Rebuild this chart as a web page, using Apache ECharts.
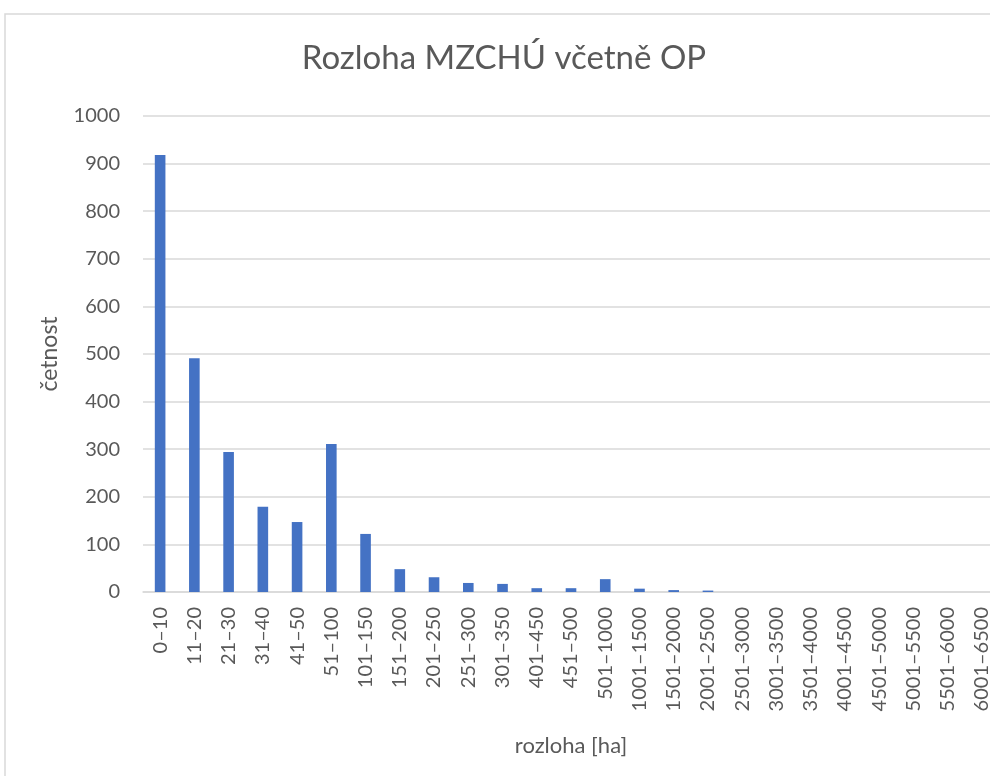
<!DOCTYPE html>
<html><head><meta charset="utf-8">
<script src="https://cdn.jsdelivr.net/npm/echarts@6/dist/echarts.min.js"></script>
<style>html,body{margin:0;padding:0;background:#fff}#c{width:990px;height:776px}</style>
</head><body><div id="c"></div>
<script>
const categories = ['0–10','11–20','21–30','31–40','41–50','51–100','101–150','151–200','201–250','251–300','301–350','401–450','451–500','501–1000','1001–1500','1501–2000','2001–2500','2501–3000','3001–3500','3501–4000','4001–4500','4501–5000','5001–5500','5501–6000','6001–6500'];
const values = [918,491,294,179,147,311,122,48,31,19,17,8,8,27,7,4,3,0,0,0,0,0,0,0,0];
const yTicks = [0,100,200,300,400,500,600,700,800,900,1000];
const chart = echarts.init(document.getElementById('c'), null, {renderer:'canvas'});
const font = 'Lato, "Open Sans", sans-serif';
chart.setOption({
  animation:false,
  backgroundColor:'#fff',
  title:{text:'Rozloha MZCHÚ včetně OP', left:499, textAlign:'center', top:37,
    textStyle:{fontFamily:font, fontSize:33, fontWeight:'normal', color:'#595959'}},
  graphic:[{type:'rect', shape:{x:5,y:14,width:1000,height:800}, style:{fill:'none', stroke:'#d9d9d9', lineWidth:1.5}, silent:true}],
  grid:{left:143, top:116, width:856, bottom:184, containLabel:false, outerBoundsMode:'none'},
  xAxis:{type:'category', data:categories,
    name:'rozloha [ha]', nameLocation:'middle', nameGap:143,
    nameTextStyle:{fontFamily:font, fontSize:22, color:'#595959'},
    axisLine:{lineStyle:{color:'#d9d9d9', width:1.5}}, axisTick:{show:false},
    axisLabel:{rotate:90, interval:0, margin:15, fontFamily:font, fontSize:20, color:'#595959'}},
  yAxis:{type:'value', min:0, max:1000, interval:100,
    name:'četnost', nameLocation:'middle', nameGap:82,
    nameTextStyle:{fontFamily:font, fontSize:23, color:'#595959'},
    axisLine:{show:false}, axisTick:{show:false},
    splitLine:{lineStyle:{color:'#d9d9d9', width:1.5}},
    axisLabel:{margin:23, fontFamily:font, fontSize:20, color:'#595959',
      formatter:v=> yTicks.includes(v)? String(v):''}},
  series:[{type:'bar', data:values, barWidth:'31%', itemStyle:{color:'#4472C4'}}]
});
</script></body></html>
